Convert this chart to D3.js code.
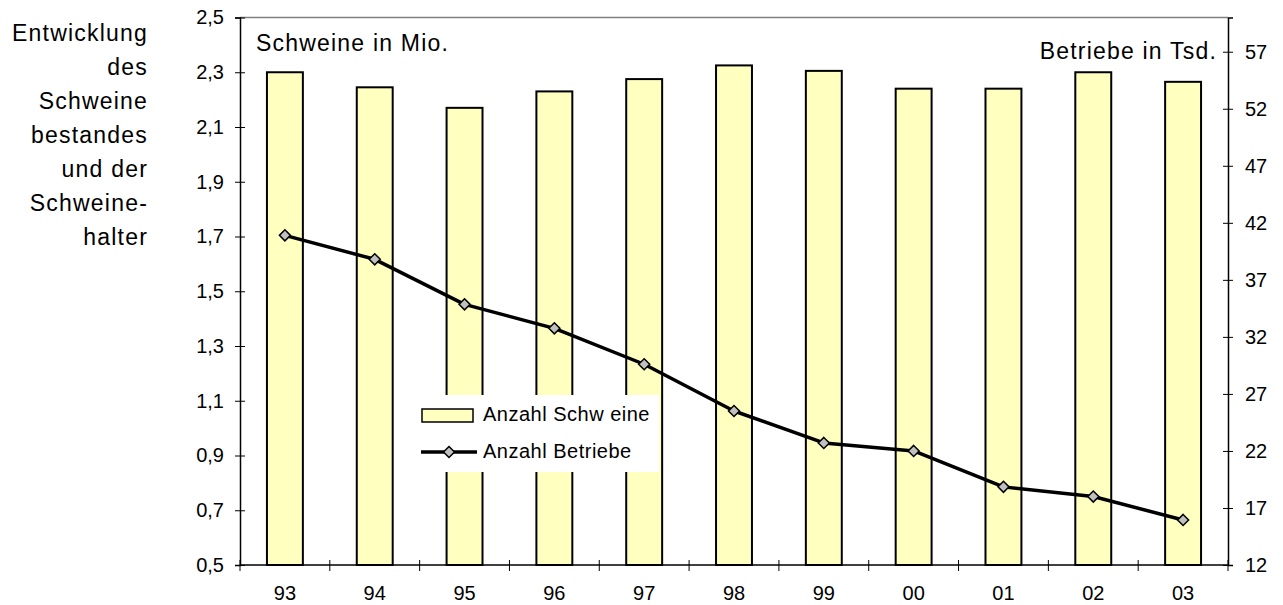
<!DOCTYPE html>
<html><head><meta charset="utf-8">
<script src="https://cdn.jsdelivr.net/npm/d3@7/dist/d3.min.js"></script>
<style>
body{margin:0;background:#fff;}
svg{display:block;font-family:"Liberation Sans",Arial,sans-serif;}
</style></head>
<body><svg id="c" width="1283" height="605"></svg>
<script>
const years = ["93","94","95","96","97","98","99","00","01","02","03"];
const schweine = [2.30,2.245,2.17,2.23,2.275,2.325,2.305,2.24,2.24,2.30,2.265];
const betriebe = [40.9,38.8,34.85,32.75,29.6,25.5,22.7,22.0,18.85,18.0,15.95];
const leftTicks = [0.5,0.7,0.9,1.1,1.3,1.5,1.7,1.9,2.1,2.3,2.5];
const rightTicks = [12,17,22,27,32,37,42,47,52,57];
const titleLines = ["Entwicklung","des","Schweine","bestandes","und der","Schweine-","halter"];
const legendLabels = ["Anzahl Schw eine","Anzahl Betriebe"];

const svg = d3.select("#c");
const X0=240, X1=1228, Y0=17.5, Y1=565;
const x = d3.scaleBand().domain(years).range([X0,X1]).paddingInner(0.6).paddingOuter(0.3);
const yL = d3.scaleLinear().domain([0.5,2.5]).range([Y1,Y0]);
const yR = d3.scaleLinear().domain([12,60]).range([Y1,Y0]);
const fmt = d3.format(".1f");
const tickFont = 20;

// top border
svg.append("line").attr("x1",X0).attr("x2",X1).attr("y1",Y0).attr("y2",Y0)
  .attr("stroke","#808080").attr("stroke-width",1.5);

// bars
svg.append("g").selectAll("rect").data(years).join("rect")
  .attr("x",d=>x(d)).attr("width",x.bandwidth())
  .attr("y",(d,i)=>yL(schweine[i])).attr("height",(d,i)=>Y1-yL(schweine[i]))
  .attr("fill","#FFFFC0").attr("stroke","#000").attr("stroke-width",2);

// line
const line = d3.line().x((d,i)=>x(years[i])+x.bandwidth()/2).y(d=>yR(d));
svg.append("path").datum(betriebe).attr("d",line).attr("fill","none")
  .attr("stroke","#000").attr("stroke-width",3.5).attr("stroke-linejoin","round");
const diamond = d3.symbol().type(d3.symbolDiamond2).size(78);
svg.append("g").selectAll("path").data(betriebe).join("path")
  .attr("transform",(d,i)=>`translate(${x(years[i])+x.bandwidth()/2},${yR(d)})`)
  .attr("d",diamond()).attr("fill","#C0C0C0").attr("stroke","#000").attr("stroke-width",1.5);

// left axis
const gl = svg.append("g").attr("transform",`translate(${X0},0)`)
  .call(d3.axisLeft(yL).tickValues(leftTicks).tickFormat(d=>fmt(d).replace(".",",")).tickSizeOuter(0).tickSize(5).tickPadding(11));
gl.selectAll(".tick line").attr("x2",-5).attr("x1",5);
// right axis
const gr = svg.append("g").attr("transform",`translate(${X1},0)`)
  .call(d3.axisRight(yR).tickValues(rightTicks).tickSizeOuter(0).tickSize(5).tickPadding(12));
gr.selectAll(".tick line").attr("x1",-5).attr("x2",5);
// bottom axis
const gb = svg.append("g").attr("transform",`translate(0,${Y1})`)
  .call(d3.axisBottom(x).tickSize(0).tickSizeOuter(0).tickPadding(21));
const bounds = d3.range(years.length+1).map(i=>X0+i*x.step());
svg.append("g").selectAll("line").data(bounds).join("line")
  .attr("x1",d=>d).attr("x2",d=>d).attr("y1",Y1-5).attr("y2",Y1+6).attr("stroke","#000");
[gl,gr,gb].forEach(g=>{
  g.select(".domain").attr("stroke","#000").attr("stroke-width",1.5);
  g.selectAll(".tick line").attr("stroke","#000");
  g.selectAll("text").attr("font-size",tickFont).attr("fill","#000")
    .style("font-family","Liberation Sans, Arial, sans-serif");
});
gb.select(".domain").remove();
svg.append("line").attr("x1",X0).attr("x2",X1).attr("y1",Y1).attr("y2",Y1).attr("stroke","#000").attr("stroke-width",1.5);

// inner labels
svg.append("text").attr("x",256).attr("y",51).attr("font-size",23).style("letter-spacing","1.2px").text("Schweine in Mio.");
svg.append("text").attr("x",1217).attr("y",59).attr("text-anchor","end").attr("font-size",23).style("letter-spacing","1.2px").text("Betriebe in Tsd.");

// side title
svg.append("g").selectAll("text").data(titleLines).join("text")
  .attr("x",148).attr("y",(d,i)=>41+i*34).attr("text-anchor","end")
  .attr("font-size",23).style("letter-spacing","1.2px").text(d=>d);

// legend
const lg = svg.append("g");
lg.append("rect").attr("x",412).attr("y",395).attr("width",247).attr("height",77).attr("fill","#fff");
lg.append("rect").attr("x",422).attr("y",409).attr("width",51).attr("height",13)
  .attr("fill","#FFFFC0").attr("stroke","#000").attr("stroke-width",1.5);
lg.append("line").attr("x1",421).attr("x2",477).attr("y1",452).attr("y2",452).attr("stroke","#000").attr("stroke-width",3.5);
lg.append("path").attr("transform","translate(449,452)").attr("d",diamond()).attr("fill","#C0C0C0").attr("stroke","#000").attr("stroke-width",1.5);
lg.selectAll("text").data(legendLabels).join("text")
  .attr("x",483).attr("y",(d,i)=>421+i*37).attr("font-size",20).style("letter-spacing","0.5px").text(d=>d);
</script></body></html>
